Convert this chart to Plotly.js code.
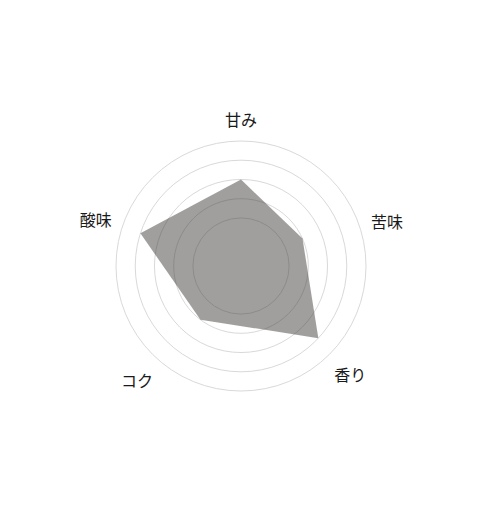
<!DOCTYPE html>
<html>
<head>
<meta charset="utf-8">
<script src="https://cdn.plot.ly/plotly-3.0.1.min.js"></script>
<style>
  html, body { margin: 0; padding: 0; background: #fff; }
  #chart { width: 480px; height: 524px; }
</style>
</head>
<body>
<div id="chart"></div>
<script>
// 味のバランス（5段階）
var labels = ['甘み', '苦味', '香り', 'コク', '酸味'];
var scores = [3, 2, 4, 2, 4];
// 多角形の頂点の向き（上から時計回り、度）… 元画像は等間隔になっていない
var vertexAngles = [0, 66, 133, 217, 288];
// 軸ラベルの向き（上から時計回り、度）
var labelAngles = [0, 72, 137, 220, 289];
var levels = [1, 2, 3, 4, 5];

// 閉じた多角形にする
var r = scores.concat([scores[0]]);
var theta = vertexAngles.concat([vertexAngles[0]]);

var shape = {
	type: 'scatterpolar',
	r: r,
	theta: theta,
	thetaunit: 'degrees',
	mode: 'lines',
	fill: 'toself',
	fillcolor: 'rgba(58,55,52,0.48)',
	line: {width: 0, color: 'rgba(0,0,0,0)'},
	hoverinfo: 'skip',
	showlegend: false
};

var layout = {
	width: 480,
	height: 524,
	margin: {l: 116, r: 114, t: 141, b: 133},
	paper_bgcolor: '#fff',
	plot_bgcolor: '#fff',
	showlegend: false,
	font: {family: '"Noto Sans CJK JP", "Noto Sans", sans-serif', size: 16, color: '#1a1a1a'},
	polar: {
		bgcolor: '#fff',
		radialaxis: {
			range: [-1.5, 5],
			tickmode: 'array',
			tickvals: levels,
			showticklabels: false,
			ticks: '',
			showline: false,
			gridcolor: '#d9d9d9',
			gridwidth: 1
		},
		angularaxis: {
			type: 'linear',
			thetaunit: 'degrees',
			rotation: 90,
			direction: 'clockwise',
			tickmode: 'array',
			tickvals: labelAngles,
			ticktext: labels,
			showgrid: false,
			showline: true,
			linecolor: '#d9d9d9',
			linewidth: 1,
			ticks: 'outside',
			ticklen: 8,
			tickcolor: 'rgba(0,0,0,0)',
			tickfont: {size: 16, color: '#1a1a1a'}
		}
	}
};

Plotly.newPlot('chart', [shape], layout, {displayModeBar: false, staticPlot: true});
</script>
</body>
</html>
